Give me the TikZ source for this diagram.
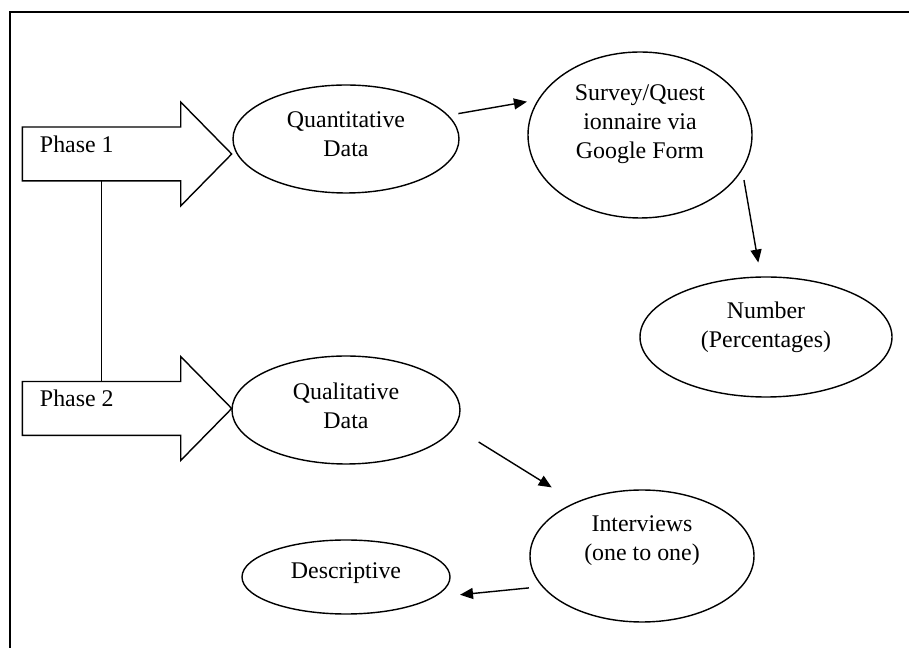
\documentclass[tikz,border=0pt]{standalone}
\usepackage{fontspec}
\setmainfont{Liberation Serif}
\usetikzlibrary{positioning, shapes.geometric, arrows.meta}

\begin{document}
\begin{tikzpicture}[on grid, line width=0.8pt, >={Triangle[length=2.6mm, width=2.2mm]},
  main/.style = {draw, ellipse, inner sep=0pt, align=center, font=\fontsize{13.6}{16.5}\selectfont},
  phase/.style = {minimum width=3.14cm, minimum height=1.05cm, inner sep=0pt},
  phasetext/.style = {anchor=west, inner sep=0pt, font=\fontsize{13.6}{16.5}\selectfont}]
\useasboundingbox (0,0) rectangle (18.18,12.96);
\draw[line width=1.1pt] (0.2,0) -- (0.2,12.72) -- (18.18,12.72);

% the two phases
\node[phase] (ph1) at (2.03,9.88) {};
\node[phase] (ph2) [below=5.09cm of ph1] {};
\foreach \p in {ph1,ph2}
  \draw (\p.north west) -- (\p.north east) -- ++(0,0.5) -- ([xshift=1.02cm]\p.east) -- ([yshift=-0.5cm]\p.south east) -- (\p.south east) -- (\p.south west) -- cycle;
\node[phasetext] (t1) at ([xshift=0.34cm, yshift=0.2cm]ph1.west) {Phase 1};
\node[phasetext] (t2) at ([xshift=0.34cm, yshift=0.2cm]ph2.west) {Phase 2};
\draw (ph1.south) -- (ph2.north);

% data nodes
\node[main, minimum width=4.52cm, minimum height=2.16cm, text depth=5.9pt] (quant) at (6.92,10.18) {Quantitative\\Data};
\node[main, minimum width=4.48cm, minimum height=3.32cm, text depth=15.4pt] (survey) [above right=0.08cm and 5.88cm of quant] {Survey/Quest\\ionnaire via\\Google Form};
\node[main, minimum width=5.04cm, minimum height=2.4cm, text depth=13.7pt] (number) [below right=4.04cm and 2.52cm of survey] {Number\\(Percentages)};
\node[main, minimum width=4.56cm, minimum height=2.16cm, text depth=4.8pt] (qual) [below=5.42cm of quant] {Qualitative\\Data};
\node[main, minimum width=4.48cm, minimum height=2.64cm, text depth=20.5pt] (interv) [below right=2.92cm and 5.92cm of qual] {Interviews\\(one to one)};
\node[main, minimum width=4.16cm, minimum height=1.48cm, text depth=7.5pt] (descr) [below=3.34cm of qual] {Descriptive};

\draw[->, shorten <=0.2cm, shorten >=0.22cm] (quant.13) -- (survey.161);
\draw[->, shorten <=0.2cm, shorten >=0.28cm] (survey.-19) -- (number.95);
\draw[->, shorten <=0.56cm, shorten >=0.56cm] (qual.-9) -- (interv.141);
\draw[->, shorten <=0.26cm, shorten >=0.52cm] (interv.-163) -- (descr.-13);
\end{tikzpicture}
\end{document}
